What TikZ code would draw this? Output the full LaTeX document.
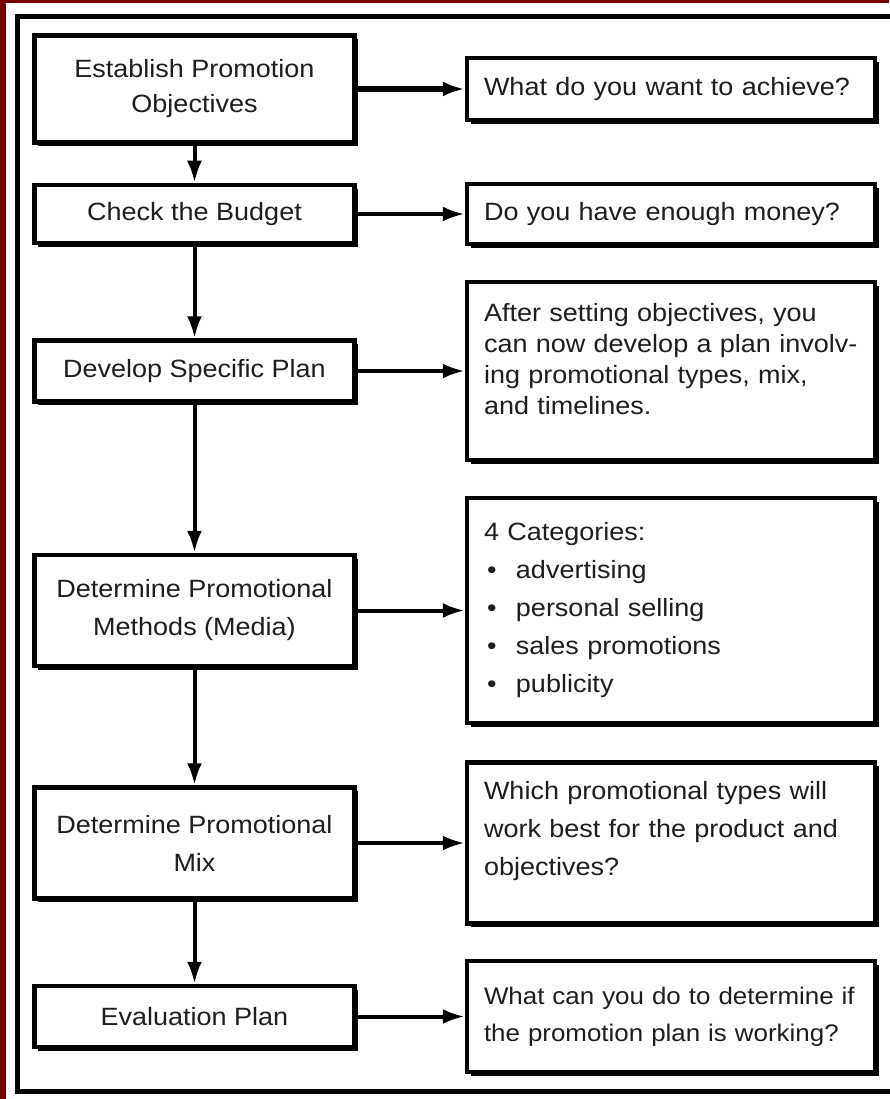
\documentclass[tikz,border=0pt]{standalone}
\usepackage{fontspec}
\setmainfont{Liberation Sans}[FakeStretch=1.08]
\usetikzlibrary{positioning,arrows.meta,shadows}
\definecolor{framered}{RGB}{120,0,0}
\definecolor{inkgray}{RGB}{30,30,30}
\newcommand{\bul}{\hspace*{3pt}\makebox[29pt][l]{\textbullet}}
\newcommand{\lift}[1]{\rule[-#1]{0pt}{1pt}}

\begin{document}
\begin{tikzpicture}[x=1pt, y=-1pt, node distance=108pt,
    lbox/.style = {draw, line width=4.5pt, fill=white, text=inkgray, minimum width=320pt, align=center,
                   font=\fontsize{25}{38}\selectfont,
                   drop shadow={shadow xshift=3.75pt, shadow yshift=-3.75pt, fill=black, opacity=1}},
    rbox/.style = {draw, line width=4.5pt, fill=white, text=inkgray, text width=374pt, inner xsep=17pt, align=left,
                   font=\fontsize{25}{38}\selectfont,
                   drop shadow={shadow xshift=3.75pt, shadow yshift=-3.75pt, fill=black, opacity=1}},
    link/.style = {line width=4pt, -{Latex[length=22pt,width=15pt]}}]
    \useasboundingbox (0,0) rectangle (889,1099);
    \fill[framered] (0,0) rectangle (889,3);
    \fill[framered] (0,0) rectangle (6,1099);
    \draw[line width=5pt] (17.5,16.5) rectangle (895,1091.5);

    % steps
    \node[lbox, minimum height=107pt, font=\fontsize{25}{35}\selectfont] (estab) at (194.5,89) {Establish Promotion\\Objectives};
    \node[lbox, minimum height=58pt] (budget) [below=38pt of estab] {Check the Budget};
    \node[lbox, minimum height=61pt] (plan) [below=93pt of budget] {Develop Specific Plan};
    \node[lbox, minimum height=111pt] (methods) [below=149pt of plan] {Determine Promotional\\Methods (Media)};
    \node[lbox, minimum height=111pt] (mix) [below=117pt of methods] {Determine Promotional\\Mix};
    \node[lbox, minimum height=61pt] (evalplan) [below=83pt of mix] {Evaluation Plan};

    % notes
    \node[rbox, minimum height=62pt] (achieve) [right=of estab] {What do you want to achieve?};
    \node[rbox, minimum height=60pt] (money) [right=of budget] {Do you have enough money?};
    \node[rbox, minimum height=178pt, font=\fontsize{25}{31}\selectfont] (involve) [right=of plan]
        {After setting objectives, you\\can now develop a plan involv-\\ing promotional types, mix,\\and timelines.\lift{25pt}};
    \node[rbox, minimum height=225pt] (cats) [right=of methods]
        {4 Categories:\\\bul advertising\\\bul personal selling\\\bul sales promotions\\\bul publicity};
    \node[rbox, minimum height=161pt] (types) [right=of mix]
        {Which promotional types will\\work best for the product and\\objectives?\lift{29pt}};
    \node[rbox, minimum height=111pt, font=\fontsize{24}{37}\selectfont] (working) [right=of evalplan]
        {What can you do to determine if\\the promotion plan is working?};

    \draw[link] (estab) -- (budget);
    \draw[link] (budget) -- (plan);
    \draw[link] (plan) -- (methods);
    \draw[link] (methods) -- (mix);
    \draw[link] (mix) -- (evalplan);
    \draw[link, line width=6pt] (estab) -- (achieve);
    \draw[link] (budget) -- (money);
    \draw[link] (plan) -- (involve);
    \draw[link] (methods) -- (cats);
    \draw[link] (mix) -- (types);
    \draw[link] (evalplan) -- (working);
\end{tikzpicture}
\end{document}
